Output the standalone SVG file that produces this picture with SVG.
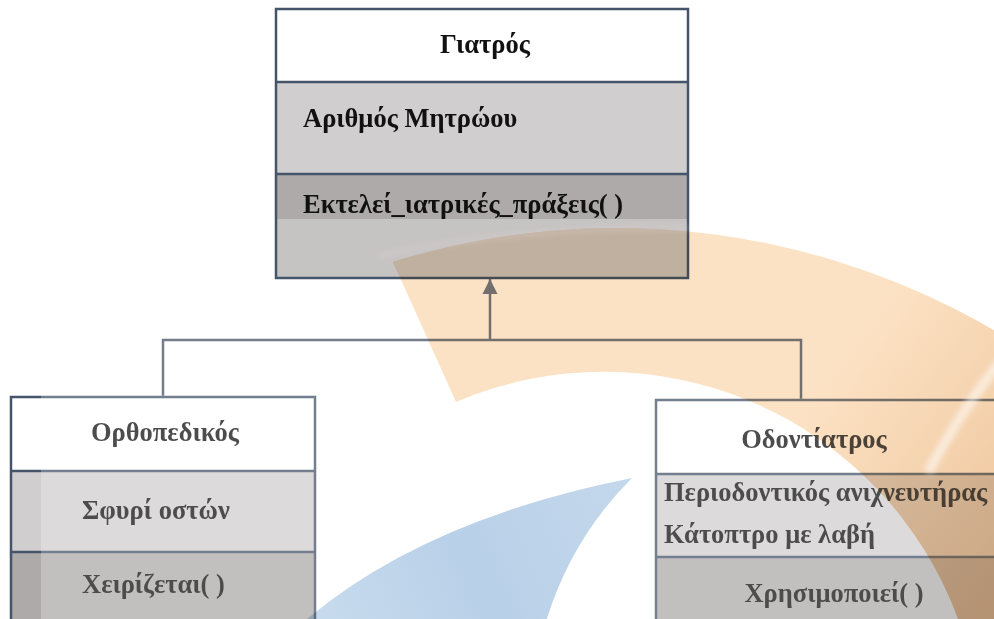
<svg xmlns="http://www.w3.org/2000/svg" width="994" height="619" viewBox="0 0 994 619">
<style>
.hdr{fill:#FFFFFF}
.att{fill:#D0CECE}
.mth{fill:#AEAAAA}
.frame{fill:none;stroke:#44546A;stroke-width:2.5}
.sep{stroke:#44546A;stroke-width:2.5}
.t{font-family:"Liberation Serif","Times New Roman",serif;font-weight:bold;font-size:26.5px;fill:#111111}
.fade{fill:#FFFFFF;opacity:0.25}
.conn{fill:none;stroke:#737D8C;stroke-width:2.5}
</style>
<defs>
<marker id="tri" viewBox="0 0 16 16" refX="15" refY="8" markerWidth="16" markerHeight="16" markerUnits="userSpaceOnUse" orient="auto">
<path d="M0,0.5 L15,8 L0,15.5 Z" fill="#737D8C"/>
</marker>
<linearGradient id="og" gradientUnits="userSpaceOnUse" x1="500" y1="250" x2="994" y2="619">
<stop offset="0" stop-color="#FCE2C4"/>
<stop offset="0.55" stop-color="#FCE2C4"/>
<stop offset="1" stop-color="#EDC398"/>
</linearGradient>
<linearGradient id="bg" gradientUnits="userSpaceOnUse" x1="300" y1="620" x2="630" y2="480">
<stop offset="0" stop-color="#C9DCEE"/>
<stop offset="0.5" stop-color="#B8D0E8"/>
<stop offset="1" stop-color="#C4D8EC"/>
</linearGradient>
<clipPath id="topclip"><rect x="277" y="175" width="410" height="102"/></clipPath>
<filter id="soft" x="-20%" y="-20%" width="140%" height="140%"><feGaussianBlur stdDeviation="3"/></filter>
</defs>
<rect x="0" y="0" width="994" height="619" fill="#FFFFFF"/>

<g id="connectors">
<polyline class="conn" points="163,398 163,340 801,340 801,400"/>
<line class="conn" x1="490" y1="340" x2="490" y2="279" marker-end="url(#tri)"/>
</g>

<g id="giatros">
<rect class="hdr" x="276" y="9" width="412" height="73"/>
<rect class="att" x="276" y="82" width="412" height="92"/>
<rect class="mth" x="276" y="174" width="412" height="104"/>
<rect x="276" y="219" width="412" height="59" fill="#FFFFFF" opacity="0.3"/>
<rect class="frame" x="276" y="9" width="412" height="269"/>
<line class="sep" x1="276" y1="82" x2="688" y2="82"/>
<line class="sep" x1="276" y1="174" x2="688" y2="174"/>
<text class="t" x="485" y="53" text-anchor="middle">Γιατρός</text>
<text class="t" x="303" y="127">Αριθμός Μητρώου</text>
<text class="t" x="303" y="213">Εκτελεί_ιατρικές_πράξεις( )</text>
</g>

<g id="orthopedikos">
<rect class="hdr" x="11" y="397" width="304" height="74"/>
<rect class="att" x="11" y="471" width="304" height="81"/>
<rect class="mth" x="11" y="552" width="304" height="90"/>
<rect class="frame" x="11" y="397" width="304" height="245"/>
<line class="sep" x1="11" y1="471" x2="315" y2="471"/>
<line class="sep" x1="11" y1="552" x2="315" y2="552"/>
<text class="t" x="165" y="441" text-anchor="middle">Ορθοπεδικός</text>
<text class="t" x="82" y="519">Σφυρί οστών</text>
<text class="t" x="82" y="593">Χειρίζεται( )</text>
<rect class="fade" x="41" y="395" width="276" height="226"/>
</g>

<g id="odontiatros">
<rect class="hdr" x="656" y="400" width="360" height="74"/>
<rect class="att" x="656" y="474" width="360" height="83"/>
<rect class="mth" x="656" y="557" width="360" height="90"/>
<rect class="frame" x="656" y="400" width="360" height="247"/>
<line class="sep" x1="656" y1="474" x2="1016" y2="474"/>
<line class="sep" x1="656" y1="557" x2="1016" y2="557"/>
<text class="t" x="814" y="448" text-anchor="middle">Οδοντίατρος</text>
<text class="t" x="664" y="501">Περιοδοντικός ανιχνευτήρας</text>
<text class="t" x="664" y="543">Κάτοπτρο με λαβή</text>
<text class="t" x="834" y="602" text-anchor="middle">Χρησιμοποιεί( )</text>
<rect class="fade" x="654" y="398" width="342" height="223"/>
</g>

<g id="watermark" style="mix-blend-mode:multiply">
<path d="M393,262 A749,749 0 0 1 1274,619 L958,619 A377,377 0 0 0 456,402 Z" fill="url(#og)"/>
<path d="M393,262 A749,749 0 0 1 1274,619 L958,619 A377,377 0 0 0 456,402 Z" fill="#F7E6D2" clip-path="url(#topclip)"/>
<path d="M300,625 Q420,520 632,478 Q570,540 545,625 Z" fill="url(#bg)"/>
</g>
<g id="highlights" filter="url(#soft)">
<path d="M1000,362 Q962,410 928,472" fill="none" stroke="#FFFFFF" stroke-width="9" opacity="0.6"/>
<path d="M378,256 Q520,226 690,228" fill="none" stroke="#E6DAD6" stroke-width="2.5" opacity="0.6"/>
</g>
</svg>
